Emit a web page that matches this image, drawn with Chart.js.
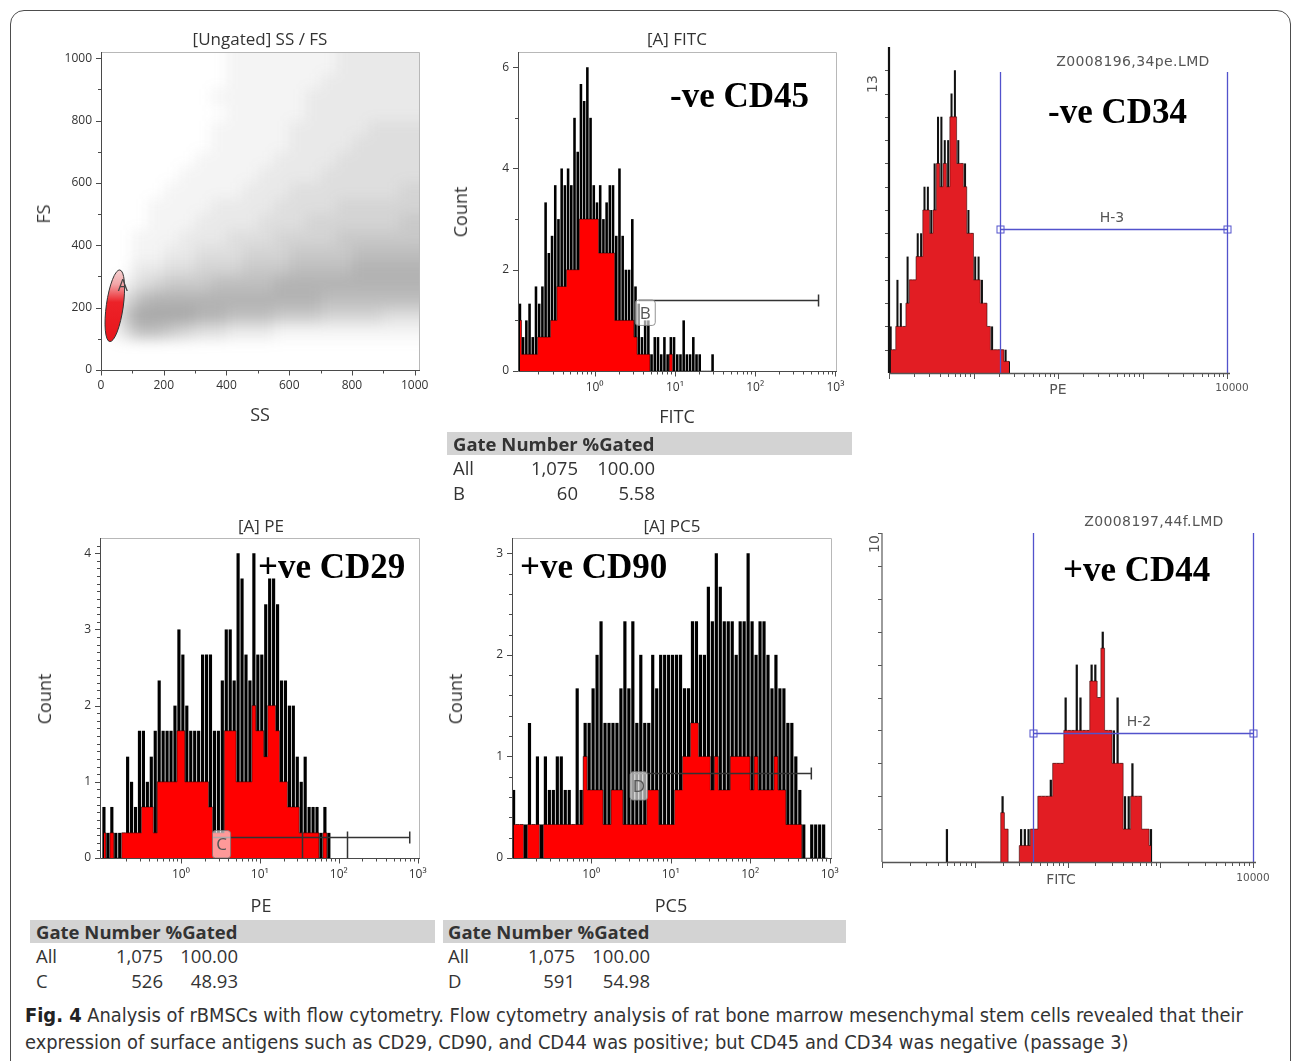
<!DOCTYPE html>
<html>
<head>
<meta charset="utf-8">
<title>Flow cytometry of rBMSCs</title>
<script src="https://cdn.jsdelivr.net/npm/chart.js@4.4.1/dist/chart.umd.min.js"></script>
<style>
  html, body { margin:0; padding:0; background:#fff; }
  body { position:relative; width:1295px; height:1061px; overflow:hidden; font-family:"Open Sans","Noto Sans",sans-serif; color:#333; }
  .frame { position:absolute; left:10px; top:10px; width:1279px; height:1066px; border:1.5px solid #4d4d4d; border-radius:14px; }
  canvas { position:absolute; }
  .t { position:absolute; white-space:nowrap; line-height:1; transform:translate(-50%,-50%); }
  .r { transform:translate(-50%,-50%) rotate(-90deg); }
  .ttl { font-size:17px; }
  .ax { font-size:18px; }
  .mark { position:absolute; white-space:nowrap; line-height:1; font-family:"Liberation Serif","Times New Roman",serif; font-weight:bold; font-size:35px; color:#000; transform:translateY(-50%); }
  .old { font-family:"DejaVu Sans",Verdana,sans-serif; font-size:14px; color:#555; }
  .tbl { position:absolute; font-size:18.5px; color:#333; }
  .tbl .hd { height:23px; background:#d3d3d3; font-weight:bold; line-height:23px; padding-left:6px; }
  .tbl .row { position:relative; height:24px; line-height:24px; margin-top:1px; }
  .tbl .row span { position:absolute; top:0; }
  .caption { position:absolute; left:25px; top:1002px; font-family:"Liberation Sans Narrow","DejaVu Sans Condensed",sans-serif; font-size:19px; line-height:27px; color:#333; white-space:nowrap; transform-origin:0 0; }
  .caption b { color:#222; }
</style>
</head>
<body>
<div class="frame"></div>

<canvas id="cScatter"></canvas>
<canvas id="cFitc"></canvas>
<canvas id="cCd34"></canvas>
<canvas id="cCd29"></canvas>
<canvas id="cCd90"></canvas>
<canvas id="cCd44"></canvas>

<!-- panel titles and axis titles -->
<div class="t ttl" style="left:260px;top:38px">[Ungated] SS / FS</div>
<div class="t ax" style="left:260px;top:414px">SS</div>
<div class="t ax r" style="left:43px;top:214px">FS</div>

<div class="t ttl" style="left:677px;top:38px">[A] FITC</div>
<div class="t ax" style="left:677px;top:416px">FITC</div>
<div class="t ax r" style="left:460px;top:212px">Count</div>

<div class="t ttl" style="left:261px;top:525px">[A] PE</div>
<div class="t ax" style="left:261px;top:905px">PE</div>
<div class="t ax r" style="left:44px;top:699px">Count</div>

<div class="t ttl" style="left:672px;top:525px">[A] PC5</div>
<div class="t ax" style="left:671px;top:905px">PC5</div>
<div class="t ax r" style="left:455px;top:699px">Count</div>

<div class="t old" style="left:1133px;top:61px;letter-spacing:0.4px">Z0008196,34pe.LMD</div>
<div class="t old" style="left:1112px;top:217px">H-3</div>
<div class="t old" style="left:1058px;top:389px">PE</div>
<div class="t old" style="left:1232px;top:387px;font-size:10.5px">10000</div>
<div class="t old r" style="left:872px;top:84px">13</div>

<div class="t old" style="left:1154px;top:521px;letter-spacing:0.4px">Z0008197,44f.LMD</div>
<div class="t old" style="left:1139px;top:721px">H-2</div>
<div class="t old" style="left:1061px;top:879px">FITC</div>
<div class="t old" style="left:1253px;top:877px;font-size:10.5px">10000</div>
<div class="t old r" style="left:874px;top:544px">10</div>

<!-- marker annotations -->
<div class="mark" style="left:670px;top:95px">-ve CD45</div>
<div class="mark" style="left:1048px;top:111px">-ve CD34</div>
<div class="mark" style="left:258px;top:566px">+ve CD29</div>
<div class="mark" style="left:520px;top:566px">+ve CD90</div>
<div class="mark" style="left:1063px;top:569px">+ve CD44</div>

<!-- gate statistics -->
<div class="tbl" style="left:447px;top:432px;width:405px">
  <div class="hd">Gate Number %Gated</div>
  <div class="row"><span style="left:6px">All</span><span style="right:274px">1,075</span><span style="right:197px">100.00</span></div>
  <div class="row"><span style="left:6px">B</span><span style="right:274px">60</span><span style="right:197px">5.58</span></div>
</div>
<div class="tbl" style="left:30px;top:920px;width:405px">
  <div class="hd">Gate Number %Gated</div>
  <div class="row"><span style="left:6px">All</span><span style="right:272px">1,075</span><span style="right:197px">100.00</span></div>
  <div class="row"><span style="left:6px">C</span><span style="right:272px">526</span><span style="right:197px">48.93</span></div>
</div>
<div class="tbl" style="left:443px;top:920px;width:403px">
  <div class="hd" style="padding-left:5px">Gate Number %Gated</div>
  <div class="row"><span style="left:5px">All</span><span style="right:271px">1,075</span><span style="right:196px">100.00</span></div>
  <div class="row"><span style="left:5px">D</span><span style="right:271px">591</span><span style="right:196px">54.98</span></div>
</div>

<div class="caption" id="caption">
  <div id="capLine1"><b>Fig. 4</b> Analysis of rBMSCs with flow cytometry. Flow cytometry analysis of rat bone marrow mesenchymal stem cells revealed that their</div>
  <div>expression of surface antigens such as CD29, CD90, and CD44 was positive; but CD45 and CD34 was negative (passage 3)</div>
</div>

<script>
// ---------- DATA ----------
// SS / FS dot plot: relative dot density (0..8) on a 50 x 50 grid, row 0 = FS 0-50, col 0 = SS 0-50
const ssBin = 50, fsBin = 50;
const ssfsDensity = [
  [0,0,0,0,0,0,0,0,0,0,0,0,0,0,0,0,0,0,0,0],
  [0,0,0,0,0,0,0,0,0,0,0,0,0,0,0,0,0,0,0,0],
  [0,3,6,6,5,4,3,3,2,2,2,1,1,1,1,1,1,1,1,1],
  [0,5,8,8,8,8,7,7,6,6,6,5,5,5,4,4,4,4,3,3],
  [0,3,6,7,7,7,7,7,7,7,7,7,7,7,6,6,6,6,6,6],
  [0,1,3,4,5,5,5,6,6,6,6,7,7,7,7,7,7,7,7,7],
  [0,0,2,2,3,3,4,4,4,5,5,5,6,6,6,6,7,7,7,7],
  [0,0,1,1,2,2,3,3,3,4,4,4,5,5,5,5,6,6,6,6],
  [0,0,1,1,1,2,2,2,3,3,3,4,4,4,4,5,5,5,5,5],
  [0,0,0,1,1,1,2,2,2,2,3,3,3,4,4,4,4,4,4,5],
  [0,0,0,1,1,1,1,2,2,2,2,3,3,3,3,4,4,4,4,4],
  [0,0,0,0,1,1,1,1,1,2,2,2,3,3,3,3,3,3,3,4],
  [0,0,0,0,0,1,1,1,1,1,2,2,2,2,3,3,3,3,3,3],
  [0,0,0,0,0,0,1,1,1,1,1,2,2,2,2,3,3,3,3,3],
  [0,0,0,0,0,0,0,1,1,1,1,1,2,2,2,2,3,3,3,3],
  [0,0,0,0,0,0,0,1,1,1,1,1,2,2,2,2,2,3,3,3],
  [0,0,0,0,0,0,0,0,1,1,1,1,1,2,2,2,2,2,2,2],
  [0,0,0,0,0,0,0,1,1,1,1,1,1,2,2,2,2,2,2,2],
  [0,0,0,0,0,0,0,0,1,1,1,1,1,1,2,2,2,2,2,2],
  [0,0,0,0,0,0,0,0,1,1,1,1,1,1,1,2,2,2,2,2]
];
const gateA = {ss: 44, fs: 206, halfSS: 27, halfFS: 116};

// histograms: bins in log10 units; peak = spike tops (black), fill = filled level (red)
const fitcStart = -0.93, fitcStep = 0.04;
const fitcPeak = [1.33,0.67,1,1.33,0.67,1.67,1.33,1.67,3.33,2.33,2.67,3.67,3,4,3.67,4,3.67,5,4.33,5.67,
  5.33,6,5,3.67,3.33,3.67,3,3.33,3.67,3.67,2.67,4,2.67,2,2,3,1.67,1.33,0.67,1,
  1,0.33,0.67,0.67,0.33,0.67,0.33,0.67,0.67,0.33,0.33,1,0.33,0.33,0.67,0.33,0.33,0,0,0,0.33];
const fitcFill = [1,0.33,0.33,0.33,0.33,0.33,0.67,0.67,0.67,0.67,1,1,1.67,1.67,1.67,2,2,2,2,3,
  3,3,3,3,3,2.33,2.33,2.33,2.33,2.33,1,1,1,1,1,1,0.67,0.33,0.33,0.33,
  0.33,0,0,0,0,0,0,0.33,0,0,0,0,0,0,0,0,0,0,0,0,0];
const gateB = {y: 1.41, from: 0.548, to: 2.79};

const cd34Start = 0.02, cd34Step = 0.04;
const cd34Peak = [2,1,4,3,2,5,4,4,6,6, 8,8,7,9,11,11,10,10,12,13, 10,9,9,7,6,5,5,4,3,2, 2,1,1,1,1,0.5];
const cd34Fill = [1,1,2,2,2,3,4,4,5,5, 7,7,6,7,9,8,9,8,11,11, 9,9,8,6,6,4,4,3,3,2, 1,1,1,1,0.5,0.5];
const gateH3 = {from: 1.315, to: 4, y: 6.18, top: 12.93};

const cd29Start = -0.975, cd29Step = 0.05;
const cd29Peak = [0.67,0.33,0.67,0.33,0.33,0.33,1.33,1,0.67,1.67, 1.67,1,1.33,1.67,2.33,1.67,1.67,1.67,2,3,
  2.67,2,1.67,1.67,1.67,2.67,2.67,2.67,1.67,1.67, 2.33,3,3,2.33,4,3.67,2.67,2.33,4,2.67,
  2.67,3.33,3.67,3.67,3.33,2.33,2.33,2,2,1.33, 1,1.33,0.67,0.67,0.67,0.33,0.67,0.33];
const cd29Fill = [0.33,0,0.33,0,0,0.33,0.33,0.33,0.33,0.33, 0.67,0.67,0.67,0.33,1,1,1,1,1,1.67,
  1.67,1,1,1,1,1,1,0.67,0.33,0.33, 0.33,1.67,1.67,1.67,1,1,1,1,2,1.67,
  1.67,1.33,2,2,1.67,1,1,0.67,0.67,0.67, 0.33,0.33,0.33,0.33,0.33,0,0.33,0];
const gateC = {y: 0.28, from: 0.41, to: 2.9, ticks: [1.54, 2.1]};

const cd90Start = -0.975, cd90Step = 0.05;
const cd90Peak = [0.67,0.33,0.33,0.33,1.33,0.33,1,0.33,1,0.67, 0.67,1,1,0.67,0.67,0.33,1.67,0.67,1.33,1.33,
  1.67,2,2.33,1.33,1.33,1.33,1.33,1.67,2.33,1.67, 2.33,1.33,2,1.33,1.33,2,1.67,2,2,2,
  2,2,2,1.67,1.67,2.33,2.33,2,2,2.67, 2.33,3,2.67,2.33,2.33,2.33,2,2.33,2.33,3,
  2.33,2,2.33,2.33,2,1.67,2,1.67,1.67,1.33, 1.33,1,0.67,0.33,0,0.33,0.33,0.33,0.33,0];
const cd90Fill = [0.33,0.33,0.33,0,0.33,0.33,0.33,0,0.33,0.33, 0.33,0.33,0.33,0.33,0.33,0.33,0.33,0.33,1,0.67,
  0.67,0.67,0.67,0.33,0.33,0.67,0.67,0.67,0.33,0.33, 0.33,0.33,0.33,0.33,0.67,0.67,0.67,0.33,0.33,0.33,
  0.33,0.67,0.67,1,1,1.33,1.33,1,1,1, 0.67,1,0.67,0.67,0.67,1,1,1,1,1,
  0.67,1,0.67,0.67,0.67,0.67,1,0.67,0.67,0.33, 0.33,0.33,0.33,0,0,0,0,0,0,0];
const gateD = {y: 0.84, from: 0.53, to: 2.77};

const cd44Start = 0.70, cd44Step = 0.04;
const cd44Peak = [1,0,0,0,0,0,0,0,0,0, 0,0,0,0,0,2,1,0,0,0, 1,1,1,1,1,2,2,2,2.5,3,
  3,3,5,4,4,6,5,4,4,6, 6,5,7,4,4,4,5,3,2,2, 3,2,2,1,1,1];
const cd44Fill = [0,0,0,0,0,0,0,0,0,0, 0,0,0,0,0,1.5,1,0,0,0, 0.5,0.5,0.5,1,1,2,2,2,2,3,
  3,3,4,4,4,4,4,4,4,5.5, 5.5,5,6.5,4,4,3,3,3,1,1, 2,2,2,1,1,0.5];
const gateH2 = {from: 1.625, to: 4, y: 3.91, top: 10};

const decadeLabels = [0, 1, 2, 3];

// ---------- HELPERS ----------
Chart.defaults.font.family = '"Open Sans","Noto Sans",sans-serif';
Chart.defaults.color = '#333';
const tickFont = {size: 12};
const sup = ['\u2070', '\u00b9', '\u00b2', '\u00b3'];

function bins(start, step, vals) {
  return vals.map((v, i) => ({x: +(start + i * step).toFixed(4), y: v}));
}
function logMinor(lo, hi) {
  const out = [];
  for (let k = Math.floor(lo); k <= Math.ceil(hi); k++) {
    for (let m = 2; m <= 9; m++) {
      const v = k + Math.log10(m);
      if (v >= lo && v <= hi) out.push(v);
    }
  }
  return out;
}
function steps(a, b, s) {
  const out = [];
  for (let v = a; v <= b + 1e-9; v += s) out.push(+v.toFixed(4));
  return out;
}
function marksY(ctx, x, ys, vals, len) {
  ctx.beginPath();
  vals.forEach(v => { const p = Math.round(ys.getPixelForValue(v)) + 0.5; ctx.moveTo(x, p); ctx.lineTo(x - len, p); });
  ctx.stroke();
}
function marksX(ctx, y, xs, vals, len) {
  ctx.beginPath();
  vals.forEach(v => { const p = Math.round(xs.getPixelForValue(v)) + 0.5; ctx.moveTo(p, y); ctx.lineTo(p, y + len); });
  ctx.stroke();
}
function boxAxes(ctx, ca, xs, ys, o) {
  ctx.lineWidth = 1;
  ctx.strokeStyle = '#b8b8b8';
  ctx.beginPath();
  ctx.moveTo(ca.left, ca.top + 0.5); ctx.lineTo(ca.right - 0.5, ca.top + 0.5); ctx.lineTo(ca.right - 0.5, ca.bottom);
  ctx.stroke();
  ctx.strokeStyle = '#4a4a4a';
  ctx.beginPath();
  ctx.moveTo(ca.left + 0.5, ca.top); ctx.lineTo(ca.left + 0.5, ca.bottom + 0.5); ctx.lineTo(ca.right, ca.bottom + 0.5);
  ctx.stroke();
  marksY(ctx, ca.left, ys, o.yMajor, 5);
  marksY(ctx, ca.left, ys, o.yMinor, 3);
  marksX(ctx, ca.bottom + 0.5, xs, o.xMajor, 5);
  marksX(ctx, ca.bottom + 0.5, xs, o.xMinor, 3);
}
function gateBar(ctx, xs, ys, g) {
  const y = Math.round(ys.getPixelForValue(g.y)) + 0.5;
  const x0 = xs.getPixelForValue(g.from), x1 = xs.getPixelForValue(g.to);
  ctx.strokeStyle = '#333'; ctx.lineWidth = 1.5;
  ctx.beginPath();
  ctx.moveTo(x0, y); ctx.lineTo(x1, y);
  ctx.moveTo(x1, y - 6); ctx.lineTo(x1, y + 6);
  (g.ticks || []).forEach(t => {
    const px = Math.round(xs.getPixelForValue(t)) + 0.5;
    ctx.moveTo(px, ys.getPixelForValue(0)); ctx.lineTo(px, y - 6);
  });
  ctx.stroke();
}
function gateTag(ctx, xs, ys, label, x0, x1, y0, y1) {
  const a = xs.getPixelForValue(x0), b = xs.getPixelForValue(x1);
  const top = ys.getPixelForValue(y1), bot = ys.getPixelForValue(y0);
  ctx.fillStyle = 'rgba(255,255,255,0.6)';
  ctx.strokeStyle = 'rgba(120,120,120,0.8)';
  ctx.lineWidth = 1;
  ctx.beginPath(); ctx.roundRect(a, top, b - a, bot - top, 3); ctx.fill(); ctx.stroke();
  ctx.fillStyle = '#555';
  ctx.font = '17px "Open Sans"';
  ctx.textAlign = 'center'; ctx.textBaseline = 'middle';
  ctx.fillText(label, (a + b) / 2, (top + bot) / 2 + 1);
}
function blueGate(ctx, xs, ys, g) {
  const xa = Math.round(xs.getPixelForValue(g.from)) + 0.5, xb = Math.round(xs.getPixelForValue(g.to)) + 0.5;
  const y = Math.round(ys.getPixelForValue(g.y)) + 0.5;
  const base = ys.getPixelForValue(0), top = ys.getPixelForValue(g.top);
  ctx.strokeStyle = '#5252cc'; ctx.lineWidth = 1.3;
  ctx.beginPath();
  ctx.moveTo(xa, base); ctx.lineTo(xa, top);
  ctx.moveTo(xb, base); ctx.lineTo(xb, top);
  ctx.moveTo(xa, y); ctx.lineTo(xb, y);
  ctx.stroke();
  ctx.lineWidth = 1;
  ctx.strokeRect(xa - 3.5, y - 3.5, 7, 7);
  ctx.strokeRect(xb - 3.5, y - 3.5, 7, 7);
}
function oldAxes(ctx, ca, xs, ys, o) {
  ctx.strokeStyle = '#555'; ctx.lineWidth = 1;
  marksY(ctx, ca.left, ys, o.yTicks, 4);
  ctx.strokeStyle = o.yAxisColor; ctx.lineWidth = o.yAxisWidth;
  ctx.beginPath(); ctx.moveTo(ca.left, ca.top); ctx.lineTo(ca.left, ca.bottom); ctx.stroke();
  ctx.strokeStyle = '#555'; ctx.lineWidth = 1.5;
  ctx.beginPath(); ctx.moveTo(ca.left, ca.bottom + 0.5); ctx.lineTo(ca.right + 3, ca.bottom + 0.5); ctx.stroke();
  ctx.lineWidth = 1;
  marksX(ctx, ca.bottom, xs, [0, 1, 2, 3, 4], 6);
  marksX(ctx, ca.bottom, xs, logMinor(0, 4), 4);
}

function makeChart(id, area, cfg, under, over) {
  const [L, T, R, B] = area;
  const c = document.getElementById(id);
  const x0 = L - 60, y0 = T - 20, w = R - L + 100, h = B - T + 60;
  c.style.left = x0 + 'px'; c.style.top = y0 + 'px';
  c.style.width = w + 'px'; c.style.height = h + 'px';
  c.width = w; c.height = h;
  cfg.options.scales.x.afterFit = s => { s.height = 30; };
  cfg.options.scales.y.afterFit = s => { s.width = 50; };
  Object.assign(cfg.options, {
    responsive: false, animation: false, devicePixelRatio: 1, events: [],
    layout: {padding: {left: 10, top: 20, right: 40, bottom: 10}}
  });
  cfg.options.plugins = {legend: {display: false}, tooltip: {enabled: false}};
  cfg.plugins = [{
    id: 'decor',
    beforeDatasetsDraw(ch) { if (under) { ch.ctx.save(); under(ch.ctx, ch.chartArea, ch.scales.x, ch.scales.y, ch); ch.ctx.restore(); } },
    afterDatasetsDraw(ch) { if (over) { ch.ctx.save(); over(ch.ctx, ch.chartArea, ch.scales.x, ch.scales.y, ch); ch.ctx.restore(); } }
  }];
  return new Chart(c, cfg);
}

function histConfig(o) {
  return {
    type: 'bar',
    data: {datasets: [
      {type: 'line', data: bins(o.start, o.step, o.fill), stepped: 'middle', fill: 'origin',
       backgroundColor: o.red, borderColor: o.edge, borderWidth: 0.9, pointRadius: 0, order: 0},
      {type: 'bar', data: bins(o.start, o.step, o.peak), backgroundColor: o.spike,
       barPercentage: o.bar, categoryPercentage: 1, order: 1}
    ]},
    options: {scales: {
      x: {type: 'linear', min: o.x[0], max: o.x[1], offset: false,
          afterBuildTicks: s => { s.ticks = o.xLabels.map(v => ({value: v})); },
          ticks: {display: o.xLabels.length > 0, autoSkip: false, maxRotation: 0, padding: 9, font: tickFont, color: '#333',
                  callback: v => '10' + sup[v]},
          grid: {display: false, drawTicks: false}, border: {display: false}},
      y: {type: 'linear', min: 0, max: o.y,
          afterBuildTicks: s => { s.ticks = o.yLabels.map(v => ({value: v})); },
          ticks: {display: o.yLabels.length > 0, padding: 9, font: tickFont, color: '#333', callback: v => String(v)},
          grid: {display: false, drawTicks: false}, border: {display: false}}
    }}
  };
}

// ---------- SS / FS dot plot ----------
makeChart('cScatter', [101, 52, 420, 370], {
  type: 'scatter',
  data: {datasets: []},
  options: {scales: {
    x: {type: 'linear', min: 0, max: 1017,
        afterBuildTicks: s => { s.ticks = steps(0, 1000, 200).map(v => ({value: v})); },
        ticks: {padding: 8, font: tickFont, color: '#333', callback: v => String(v)},
        grid: {display: false, drawTicks: false}, border: {display: false}},
    y: {type: 'linear', min: 0, max: 1020,
        afterBuildTicks: s => { s.ticks = steps(0, 1000, 200).map(v => ({value: v})); },
        ticks: {padding: 9, font: tickFont, color: '#333', callback: v => String(v)},
        grid: {display: false, drawTicks: false}, border: {display: false}}
  }}
}, (ctx, ca, xs, ys, ch) => {
  const off = document.createElement('canvas');
  off.width = ch.width; off.height = ch.height;
  const o = off.getContext('2d');
  const nRow = ssfsDensity.length;
  ssfsDensity.forEach((row, r) => row.forEach((d, c) => {
    if (!d) return;
    const sx0 = c * ssBin, sx1 = c === row.length - 1 ? 1200 : (c + 1) * ssBin;
    const fy0 = r * fsBin, fy1 = r === nRow - 1 ? 1200 : (r + 1) * fsBin;
    const px0 = Math.round(xs.getPixelForValue(sx0)), px1 = Math.round(xs.getPixelForValue(sx1));
    const py0 = Math.round(ys.getPixelForValue(fy0)), py1 = Math.round(ys.getPixelForValue(fy1));
    o.fillStyle = 'rgba(100,100,100,' + (d * 0.07) + ')';
    o.fillRect(px0, py1, px1 - px0, py0 - py1);
  }));
  ctx.beginPath(); ctx.rect(ca.left, ca.top, ca.width, ca.height); ctx.clip();
  ctx.filter = 'blur(7px)';
  ctx.drawImage(off, 0, 0);
  ctx.filter = 'none';
}, (ctx, ca, xs, ys) => {
  const cx = xs.getPixelForValue(gateA.ss), cy = ys.getPixelForValue(gateA.fs);
  const rx = Math.abs(xs.getPixelForValue(gateA.ss + gateA.halfSS) - cx);
  const ry = Math.abs(ys.getPixelForValue(gateA.fs + gateA.halfFS) - cy);
  const g = ctx.createLinearGradient(0, cy + ry, 0, cy - ry);
  g.addColorStop(0, '#e8151b'); g.addColorStop(0.55, '#ec2228');
  g.addColorStop(0.8, '#f2a6a8'); g.addColorStop(1, '#f6d2d2');
  ctx.beginPath(); ctx.ellipse(cx, cy, rx, ry, 0.14, 0, Math.PI * 2);
  ctx.fillStyle = g; ctx.fill();
  ctx.lineWidth = 1; ctx.strokeStyle = '#333'; ctx.stroke();
  ctx.fillStyle = '#444'; ctx.font = '16px "Open Sans"';
  ctx.textAlign = 'center'; ctx.textBaseline = 'middle';
  ctx.fillText('A', cx + 8, cy - 19);
  boxAxes(ctx, ca, xs, ys, {
    yMajor: steps(0, 1000, 200), yMinor: steps(100, 900, 200),
    xMajor: steps(0, 1000, 200), xMinor: steps(100, 900, 200)
  });
});

// ---------- [A] FITC (CD45) ----------
makeChart('cFitc', [518, 52, 837, 371], histConfig({
  start: fitcStart, step: fitcStep, peak: fitcPeak, fill: fitcFill,
  red: '#ff0000', edge: 'rgba(0,0,0,0.55)', spike: '#000', bar: 0.8,
  x: [-0.954, 3.02], y: 6.3, xLabels: decadeLabels, yLabels: [0, 2, 4, 6]
}), null, (ctx, ca, xs, ys) => {
  gateBar(ctx, xs, ys, gateB);
  gateTag(ctx, xs, ys, 'B', 0.507, 0.756, 0.9, 1.4);
  boxAxes(ctx, ca, xs, ys, {yMajor: [0, 2, 4, 6], yMinor: [1, 3, 5], xMajor: [0, 1, 2, 3], xMinor: logMinor(-0.954, 3.02)});
});

// ---------- CD34 (PE) ----------
makeChart('cCd34', [889, 47, 1227, 373], histConfig({
  start: cd34Start, step: cd34Step, peak: cd34Peak, fill: cd34Fill,
  red: '#e21d23', edge: 'rgba(40,0,0,0.6)', spike: '#111', bar: 0.6,
  x: [0, 4], y: 14, xLabels: [], yLabels: []
}), null, (ctx, ca, xs, ys) => {
  blueGate(ctx, xs, ys, gateH3);
  oldAxes(ctx, ca, xs, ys, {yTicks: steps(1, 13, 1), yAxisColor: '#111', yAxisWidth: 2.2});
});

// ---------- [A] PE (CD29) ----------
makeChart('cCd29', [100, 538, 420, 858], histConfig({
  start: cd29Start, step: cd29Step, peak: cd29Peak, fill: cd29Fill,
  red: '#ff0000', edge: 'rgba(0,0,0,0.55)', spike: '#000', bar: 0.8,
  x: [-1.025, 3.03], y: 4.2, xLabels: decadeLabels, yLabels: [0, 1, 2, 3, 4]
}), null, (ctx, ca, xs, ys) => {
  gateBar(ctx, xs, ys, gateC);
  gateTag(ctx, xs, ys, 'C', 0.40, 0.63, 0, 0.36);
  boxAxes(ctx, ca, xs, ys, {yMajor: [0, 1, 2, 3, 4], yMinor: steps(0.1, 4.1, 0.1), xMajor: [0, 1, 2, 3], xMinor: logMinor(-1.025, 3.03)});
});

// ---------- [A] PC5 (CD90) ----------
makeChart('cCd90', [512, 538, 832, 858], histConfig({
  start: cd90Start, step: cd90Step, peak: cd90Peak, fill: cd90Fill,
  red: '#ff0000', edge: 'rgba(0,0,0,0.55)', spike: '#000', bar: 0.8,
  x: [-0.995, 3.03], y: 3.15, xLabels: decadeLabels, yLabels: [0, 1, 2, 3]
}), null, (ctx, ca, xs, ys) => {
  gateBar(ctx, xs, ys, gateD);
  gateTag(ctx, xs, ys, 'D', 0.49, 0.71, 0.57, 0.85);
  boxAxes(ctx, ca, xs, ys, {yMajor: [0, 1, 2, 3], yMinor: steps(0.2, 3, 0.2), xMajor: [0, 1, 2, 3], xMinor: logMinor(-0.995, 3.03)});
});

// ---------- CD44 (FITC) ----------
makeChart('cCd44', [882, 533, 1253, 862], histConfig({
  start: cd44Start, step: cd44Step, peak: cd44Peak, fill: cd44Fill,
  red: '#e21d23', edge: 'rgba(40,0,0,0.6)', spike: '#111', bar: 0.6,
  x: [0, 4], y: 10, xLabels: [], yLabels: []
}), null, (ctx, ca, xs, ys) => {
  blueGate(ctx, xs, ys, gateH2);
  oldAxes(ctx, ca, xs, ys, {yTicks: steps(1, 10, 1), yAxisColor: '#666', yAxisWidth: 1.3});
});

// caption: condensed text fitted to the reference line length
const cap = document.getElementById('caption');
const l1 = document.getElementById('capLine1');
const target = 1218;
const range = document.createRange(); range.selectNodeContents(l1);
const textW = range.getBoundingClientRect().width;
if (textW > 0) cap.style.transform = 'scaleX(' + (target / textW).toFixed(4) + ')';
</script>
</body>
</html>
